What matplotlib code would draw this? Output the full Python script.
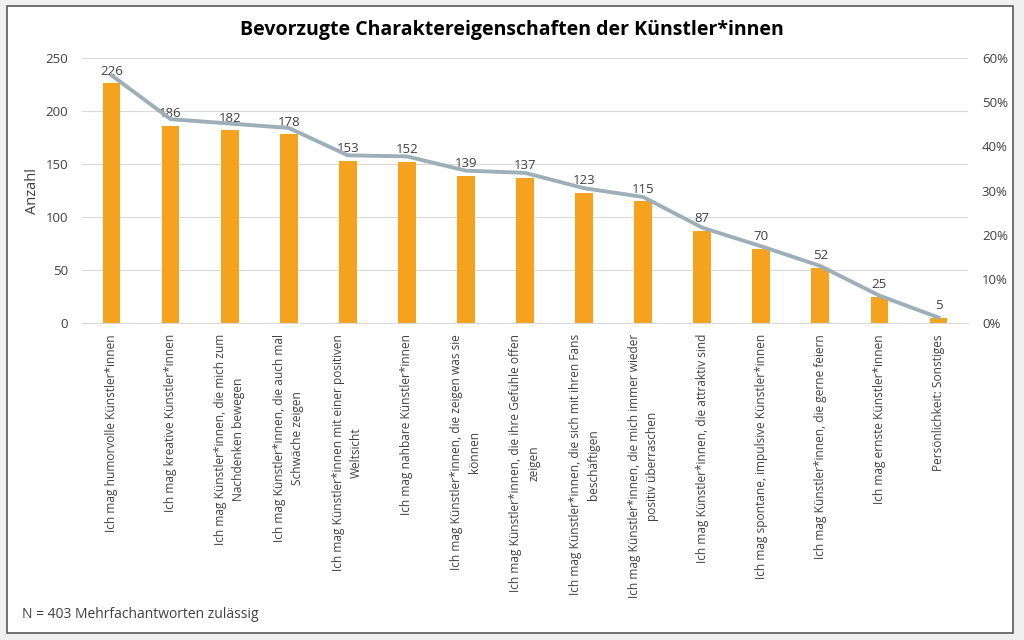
import matplotlib.pyplot as plt
from matplotlib.patches import Rectangle
from matplotlib.ticker import PercentFormatter

plt.rcParams['font.family'] = ['Open Sans', 'DejaVu Sans']

# Data
categories = [
    "Ich mag humorvolle Künstler*innen",
    "Ich mag kreative Künstler*innen",
    "Ich mag Künstler*innen, die mich zum\nNachdenken bewegen",
    "Ich mag Künstler*innen, die auch mal\nSchwäche zeigen",
    "Ich mag Künstler*innen mit einer positiven\nWeltsicht",
    "Ich mag nahbare Künstler*innen",
    "Ich mag Künstler*innen, die zeigen was sie\nkönnen",
    "Ich mag Künstler*innen, die ihre Gefühle offen\nzeigen",
    "Ich mag Künstler*innen, die sich mit ihren Fans\nbeschäftigen",
    "Ich mag Künstler*innen, die mich immer wieder\npositiv überraschen",
    "Ich mag Künstler*innen, die attraktiv sind",
    "Ich mag spontane, impulsive Künstler*innen",
    "Ich mag Künstler*innen, die gerne feiern",
    "Ich mag ernste Künstler*innen",
    "Persönlichkeit: Sonstiges",
]
counts = [226, 186, 182, 178, 153, 152, 139, 137, 123, 115, 87, 70, 52, 25, 5]
n_total = 403
shares = [c / n_total for c in counts]

bar_color = '#F5A31E'
line_color = '#9DAFB8'
text_color = '#404040'

fig = plt.figure(figsize=(10.24, 6.4), dpi=100)
fig.patch.set_facecolor('#F0F0F0')
# white chart panel with frame, drawn behind the axes
fig.patches.append(Rectangle((7 / 1024, 1 - 633 / 640), 1006 / 1024, 627 / 640,
                             transform=fig.transFigure, facecolor='white',
                             edgecolor='#595959', linewidth=1.2, zorder=-10))

ax = fig.add_axes([82 / 1024, 1 - 323 / 640, 886 / 1024, 265 / 640])
ax.set_facecolor('none')
x = list(range(len(categories)))
ax.bar(x, counts, width=0.3, color=bar_color, zorder=2)
for xi, c in zip(x, counts):
    ax.annotate(str(c), (xi, c), xytext=(0, 4), textcoords='offset points',
                ha='center', va='bottom', fontsize=9.5, color=text_color, zorder=5)

ax.set_xlim(-0.5, len(categories) - 0.5)
ax.set_ylim(0, 250)
ax.set_yticks(range(0, 251, 50))
ax.grid(axis='y', color='#D9D9D9', linewidth=0.8, zorder=0)
ax.set_axisbelow(True)
for s in ['top', 'right', 'left']:
    ax.spines[s].set_visible(False)
ax.spines['bottom'].set_color('#D9D9D9')
ax.tick_params(axis='both', length=0, colors=text_color, labelsize=9.5)
ax.tick_params(axis='y', pad=10)
ax.set_xticks(x)
ax.set_xticklabels(categories, rotation=90, va='top', ha='center',
                   multialignment='center', fontsize=8.6, linespacing=1.5)
ax.tick_params(axis='x', pad=8)
ax.set_ylabel('Anzahl', fontsize=10.5, color=text_color, labelpad=4)

ax2 = ax.twinx()
ax2.plot(x, shares, color=line_color, linewidth=2.8, zorder=3)
ax2.set_ylim(0, 0.6)
ax2.set_yticks([0, 0.1, 0.2, 0.3, 0.4, 0.5, 0.6])
ax2.yaxis.set_major_formatter(PercentFormatter(1.0, decimals=0))
ax2.tick_params(axis='y', length=0, colors=text_color, labelsize=9.5, pad=10)
for s in ax2.spines.values():
    s.set_visible(False)

fig.text(0.5, 1 - 30 / 640, 'Bevorzugte Charaktereigenschaften der Künstler*innen',
         ha='center', va='center', fontsize=14, fontweight='bold', color='black')
fig.text(22 / 1024, 1 - 614 / 640, 'N = 403 Mehrfachantworten zulässig',
         ha='left', va='center', fontsize=10, color=text_color)

fig.savefig('out.png', dpi=100, facecolor=fig.get_facecolor())
